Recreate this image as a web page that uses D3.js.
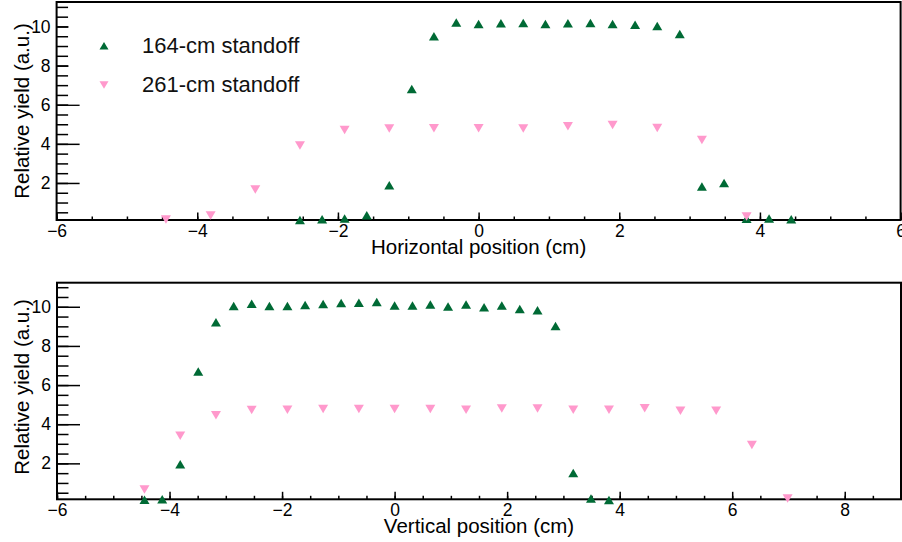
<!DOCTYPE html>
<html>
<head>
<meta charset="utf-8">
<script src="https://cdn.jsdelivr.net/npm/d3@7"></script>
<style>
  html, body { margin: 0; padding: 0; background: #fff; }
  svg { display: block; font-family: "Liberation Sans", Arial, Helvetica, sans-serif; }
</style>
</head>
<body>
<svg id="chart" width="902" height="542"></svg>
<script>
// Beam-profile scans: relative yield vs. detector position at two standoffs
const hPos164 = [-2.54, -2.225, -1.905, -1.59, -1.27, -0.95, -0.635, -0.3175, 0, 0.3175, 0.635, 0.95, 1.27, 1.59, 1.905, 2.225, 2.54, 2.86, 3.175, 3.49, 3.81, 4.13, 4.445];
const hYield164 = [0.11, 0.14, 0.19, 0.35, 1.88, 6.80, 9.50, 10.20, 10.12, 10.16, 10.18, 10.13, 10.17, 10.18, 10.12, 10.09, 10.02, 9.62, 1.82, 2.00, 0.17, 0.18, 0.15];

const hPos261 = [-4.445, -3.81, -3.175, -2.54, -1.905, -1.27, -0.635, 0, 0.635, 1.27, 1.905, 2.54, 3.175, 3.81];
const hYield261 = [0.13, 0.34, 1.67, 3.92, 4.71, 4.79, 4.80, 4.80, 4.78, 4.90, 4.96, 4.81, 4.20, 0.28];

const vPos164 = [-4.445, -4.13, -3.81, -3.49, -3.175, -2.86, -2.54, -2.225, -1.905, -1.59, -1.27, -0.95, -0.635, -0.3175, 0, 0.3175, 0.635, 0.95, 1.27, 1.59, 1.905, 2.225, 2.54, 2.86, 3.175, 3.49, 3.81];
const vYield164 = [0.14, 0.17, 1.95, 6.69, 9.21, 10.04, 10.16, 10.04, 10.04, 10.09, 10.14, 10.19, 10.21, 10.24, 10.07, 10.06, 10.11, 10.02, 10.11, 9.97, 10.06, 9.89, 9.82, 9.02, 1.51, 0.21, 0.13];

const vPos261 = [-4.445, -3.81, -3.175, -2.54, -1.905, -1.27, -0.635, 0, 0.635, 1.27, 1.905, 2.54, 3.175, 3.81, 4.445, 5.08, 5.715, 6.35, 6.985];
const vYield261 = [0.66, 3.41, 4.46, 4.73, 4.74, 4.78, 4.78, 4.78, 4.78, 4.74, 4.80, 4.80, 4.74, 4.74, 4.81, 4.69, 4.69, 2.94, 0.20];

const seriesNames = ["164-cm standoff", "261-cm standoff"];
const seriesColors = ["#006a35", "#ff99cc"];
const yTitle = "Relative yield (a.u.)";
const yMajorTicks = [2, 4, 6, 8, 10];

const svg = d3.select("#chart");
svg.append("rect").attr("width", 902).attr("height", 542).attr("fill", "#fff");

// Marker paths centred on their bounding box
const triUp = (w, h) => `M${-w/2},${h/2}L${w/2},${h/2}L0,${-h/2}Z`;
const triDown = (w, h) => `M${-w/2},${-h/2}L${w/2},${-h/2}L0,${h/2}Z`;

function drawPanel(cfg) {
  const x = d3.scaleLinear().domain(cfg.xDomain).range([cfg.left, cfg.right]);
  const y = d3.scaleLinear().domain(cfg.yDomain).range([cfg.bottom, cfg.top]);
  const g = svg.append("g");

  // minor ticks every 0.5, major every 2
  const xMinor = d3.range(cfg.xDomain[0], cfg.xDomain[1] + 0.001, 0.5);
  const yMinor = d3.range(0.5, cfg.yDomain[1], 0.5);
  const xMajor = d3.range(cfg.xDomain[0], cfg.xDomain[1] + 0.001, 2);

  const xMinorAxis = d3.axisBottom(x).tickValues(xMinor).tickSize(-3.5).tickFormat("");
  const xMajorAxis = d3.axisBottom(x).tickValues(xMajor).tickSize(-7.5).tickPadding(6);
  const yMinorAxis = d3.axisLeft(y).tickValues(yMinor).tickSize(-11.5).tickFormat("");
  const yMajorAxis = d3.axisLeft(y).tickValues(yMajorTicks).tickSize(-23).tickPadding(6);

  const gx1 = g.append("g").attr("transform", `translate(0,${cfg.bottom})`).call(xMinorAxis);
  const gx2 = g.append("g").attr("transform", `translate(0,${cfg.bottom})`).call(xMajorAxis);
  const gy1 = g.append("g").attr("transform", `translate(${cfg.left},0)`).call(yMinorAxis);
  const gy2 = g.append("g").attr("transform", `translate(${cfg.left},0)`).call(yMajorAxis);
  [gx1, gx2, gy1, gy2].forEach(a => {
    a.select(".domain").remove();
    a.selectAll(".tick line").attr("stroke", "#000").attr("stroke-width", 1.5);
    a.selectAll("text").attr("fill", "#000").attr("font-size", 17.5)
      .attr("font-family", "Liberation Sans, Arial, sans-serif");
  });
  gx2.selectAll("text").attr("dy", null).attr("y", 17).attr("dominant-baseline", null);

  // axis titles
  g.append("text")
    .attr("x", (cfg.left + cfg.right) / 2)
    .attr("y", cfg.bottom + 34)
    .attr("text-anchor", "middle")
    .attr("font-size", 20.5)
    .attr("fill", "#000")
    .text(cfg.xTitle);
  g.append("text")
    .attr("transform", `translate(28.5,${cfg.yTitleCenter}) rotate(-90)`)
    .attr("text-anchor", "middle")
    .attr("font-size", 20.5)
    .attr("fill", "#000")
    .text(yTitle);

  if (cfg.legend) {
    // legend box (white fill, no border) sits over the inner tick marks
    g.append("rect")
      .attr("x", 68.5).attr("y", 4)
      .attr("width", 262).attr("height", 100.3)
      .attr("fill", "#fff");
    const items = [
      { name: seriesNames[0], color: seriesColors[0], path: triUp(9, 7.5), my: 45.7, ty: 53 },
      { name: seriesNames[1], color: seriesColors[1], path: triDown(9, 7.5), my: 85, ty: 91.7 }
    ];
    items.forEach(it => {
      g.append("path").attr("d", it.path).attr("fill", it.color)
        .attr("transform", `translate(104,${it.my})`);
      g.append("text").attr("x", 142).attr("y", it.ty)
        .attr("font-size", 22).attr("fill", "#111").text(it.name);
    });
  }

  // frame
  g.append("rect")
    .attr("x", cfg.left).attr("y", cfg.top)
    .attr("width", cfg.right - cfg.left).attr("height", cfg.bottom - cfg.top)
    .attr("fill", "none").attr("stroke", "#000").attr("stroke-width", 2);

  // data points
  const s164 = cfg.pos164.map((p, i) => ({ x: p, y: cfg.yield164[i] }));
  const s261 = cfg.pos261.map((p, i) => ({ x: p, y: cfg.yield261[i] }));
  g.append("g").selectAll("path").data(s164).join("path")
    .attr("d", triUp(10, 8.5))
    .attr("fill", seriesColors[0])
    .attr("transform", d => `translate(${x(d.x)},${y(d.y)})`);
  g.append("g").selectAll("path").data(s261).join("path")
    .attr("d", triDown(10, 8.5))
    .attr("fill", seriesColors[1])
    .attr("transform", d => `translate(${x(d.x)},${y(d.y)})`);
}

drawPanel({
  left: 56.6, right: 900.6, top: 2, bottom: 220,
  xDomain: [-6, 6], yDomain: [0.107, 11.25],
  xTitle: "Horizontal position (cm)", yTitleCenter: 111,
  pos164: hPos164, yield164: hYield164, pos261: hPos261, yield261: hYield261,
  legend: true
});

drawPanel({
  left: 57, right: 901, top: 282.7, bottom: 499.3,
  xDomain: [-6, 9], yDomain: [0.164, 11.23],
  xTitle: "Vertical position (cm)", yTitleCenter: 387,
  pos164: vPos164, yield164: vYield164, pos261: vPos261, yield261: vYield261,
  legend: false
});
</script>
</body>
</html>
